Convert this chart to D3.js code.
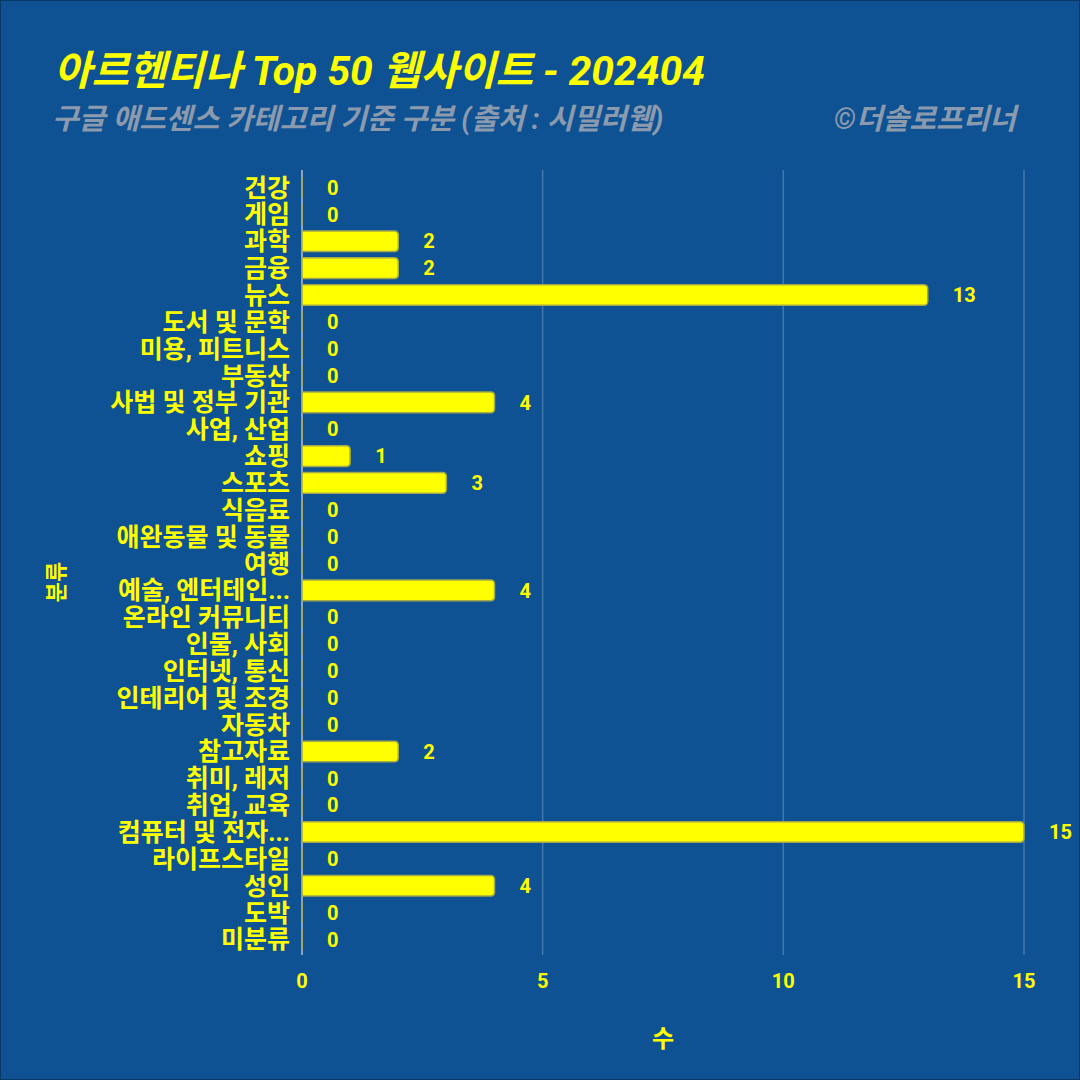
<!DOCTYPE html>
<html><head><meta charset="utf-8">
<script src="https://cdn.jsdelivr.net/npm/d3@7"></script>
<style>html,body{margin:0;padding:0;background:#0e5293;}svg{display:block;}</style>
</head><body>
<script>
const categories = ["건강","게임","과학","금융","뉴스","도서 및 문학","미용, 피트니스","부동산","사법 및 정부 기관","사업, 산업","쇼핑","스포츠","식음료","애완동물 및 동물","여행","예술, 엔터테인...","온라인 커뮤니티","인물, 사회","인터넷, 통신","인테리어 및 조경","자동차","참고자료","취미, 레저","취업, 교육","컴퓨터 및 전자...","라이프스타일","성인","도박","미분류"];
const counts = [0,0,2,2,13,0,0,0,4,0,1,3,0,0,0,4,0,0,0,0,0,2,0,0,15,0,4,0,0];
const xTicks = [0,5,10,15];
const titleText = "아르헨티나 Top 50 웹사이트 - 202404";
const subtitleText = "구글 애드센스 카테고리 기준 구분 (출처 : 시밀러웹)";
const creditText = "©더솔로프리너";
const xTitle = "수";
const yTitle = "분류";

const W = 1080, H = 1080;
const font = "Roboto, 'Noto Sans CJK KR', sans-serif";
const yellow = "#ffff00";
const svg = d3.select("body").append("svg").attr("width", W).attr("height", H);
svg.append("rect").attr("width", W).attr("height", H).attr("fill", "#0e5293");

const x = d3.scaleLinear().domain([0, 15]).range([302, 1024]);
const y = d3.scaleBand().domain(categories).range([174, 953]).paddingInner(0.23).paddingOuter(0.12);

// gridlines
svg.append("g").selectAll("line").data(xTicks.filter(d => d > 0)).join("line")
  .attr("x1", d => x(d)).attr("x2", d => x(d)).attr("y1", 170).attr("y2", 955)
  .attr("stroke", "rgba(255,255,255,0.22)").attr("stroke-width", 1.5);
// axis line
svg.append("line").attr("x1", x(0)).attr("x2", x(0)).attr("y1", 170).attr("y2", 955)
  .attr("stroke", "#8fa3bf").attr("stroke-width", 2);

// bars
function barPath(d) {
  const x0 = x(0), x1 = x(d.v), y0 = y(d.c), h = y.bandwidth();
  const r = Math.min(4, (x1 - x0) / 2);
  if (x1 - x0 <= 0) return `M${x0},${y0}V${y0 + h}`;
  return `M${x0},${y0}H${x1 - r}Q${x1},${y0} ${x1},${y0 + r}V${y0 + h - r}Q${x1},${y0 + h} ${x1 - r},${y0 + h}H${x0}Z`;
}
const data = categories.map((c, i) => ({c, v: counts[i]}));
svg.append("g").selectAll("path").data(data).join("path")
  .attr("d", barPath).attr("fill", yellow)
  .attr("stroke", "#a3a84a").attr("stroke-width", 1.5);

// value labels
svg.append("g").selectAll("text").data(data).join("text")
  .attr("x", d => x(d.v) + 25).attr("y", d => y(d.c) + y.bandwidth() / 2)
  .attr("dy", "0.36em").attr("fill", yellow).attr("font-family", font)
  .attr("font-weight", "bold").attr("font-size", 20).text(d => d.v);

// category labels
svg.append("g").selectAll("text").data(categories).join("text")
  .attr("x", 290).attr("y", d => y(d) + y.bandwidth() / 2).attr("dy", "0.36em")
  .attr("text-anchor", "end").attr("fill", yellow).attr("font-family", font)
  .attr("font-weight", "bold").attr("font-size", 25).text(d => d);

// x tick labels
svg.append("g").selectAll("text").data(xTicks).join("text")
  .attr("x", d => x(d)).attr("y", 988).attr("text-anchor", "middle")
  .attr("fill", yellow).attr("font-family", font).attr("font-weight", "bold")
  .attr("font-size", 20).text(d => d);

// axis titles
svg.append("text").attr("x", 663).attr("y", 1047).attr("text-anchor", "middle")
  .attr("fill", yellow).attr("font-family", font).attr("font-weight", "bold")
  .attr("font-size", 24).text(xTitle);
svg.append("text").attr("transform", "translate(64,582) rotate(-90)").attr("text-anchor", "middle")
  .attr("fill", yellow).attr("font-family", font).attr("font-weight", "bold")
  .attr("font-size", 22).text(yTitle);

// title
svg.append("text").attr("x", 54).attr("y", 85).attr("fill", yellow).attr("font-family", font)
  .attr("font-weight", "bold").attr("font-style", "italic").attr("font-size", 40.8).text(titleText);
svg.append("text").attr("x", 52).attr("y", 129).attr("fill", "#8c9aae").attr("font-family", font)
  .attr("font-weight", "bold").attr("font-style", "italic").attr("font-size", 29).text(subtitleText);
svg.append("text").attr("x", 1016).attr("y", 129).attr("text-anchor", "end").attr("fill", "#8c9aae").attr("font-family", font)
  .attr("font-weight", "bold").attr("font-style", "italic").attr("font-size", 29).text(creditText);

// border
svg.append("rect").attr("x", 0.5).attr("y", 0.5).attr("width", W - 1).attr("height", H - 1)
  .attr("fill", "none").attr("stroke", "#0a3a66").attr("stroke-width", 1);
</script>
</body></html>
